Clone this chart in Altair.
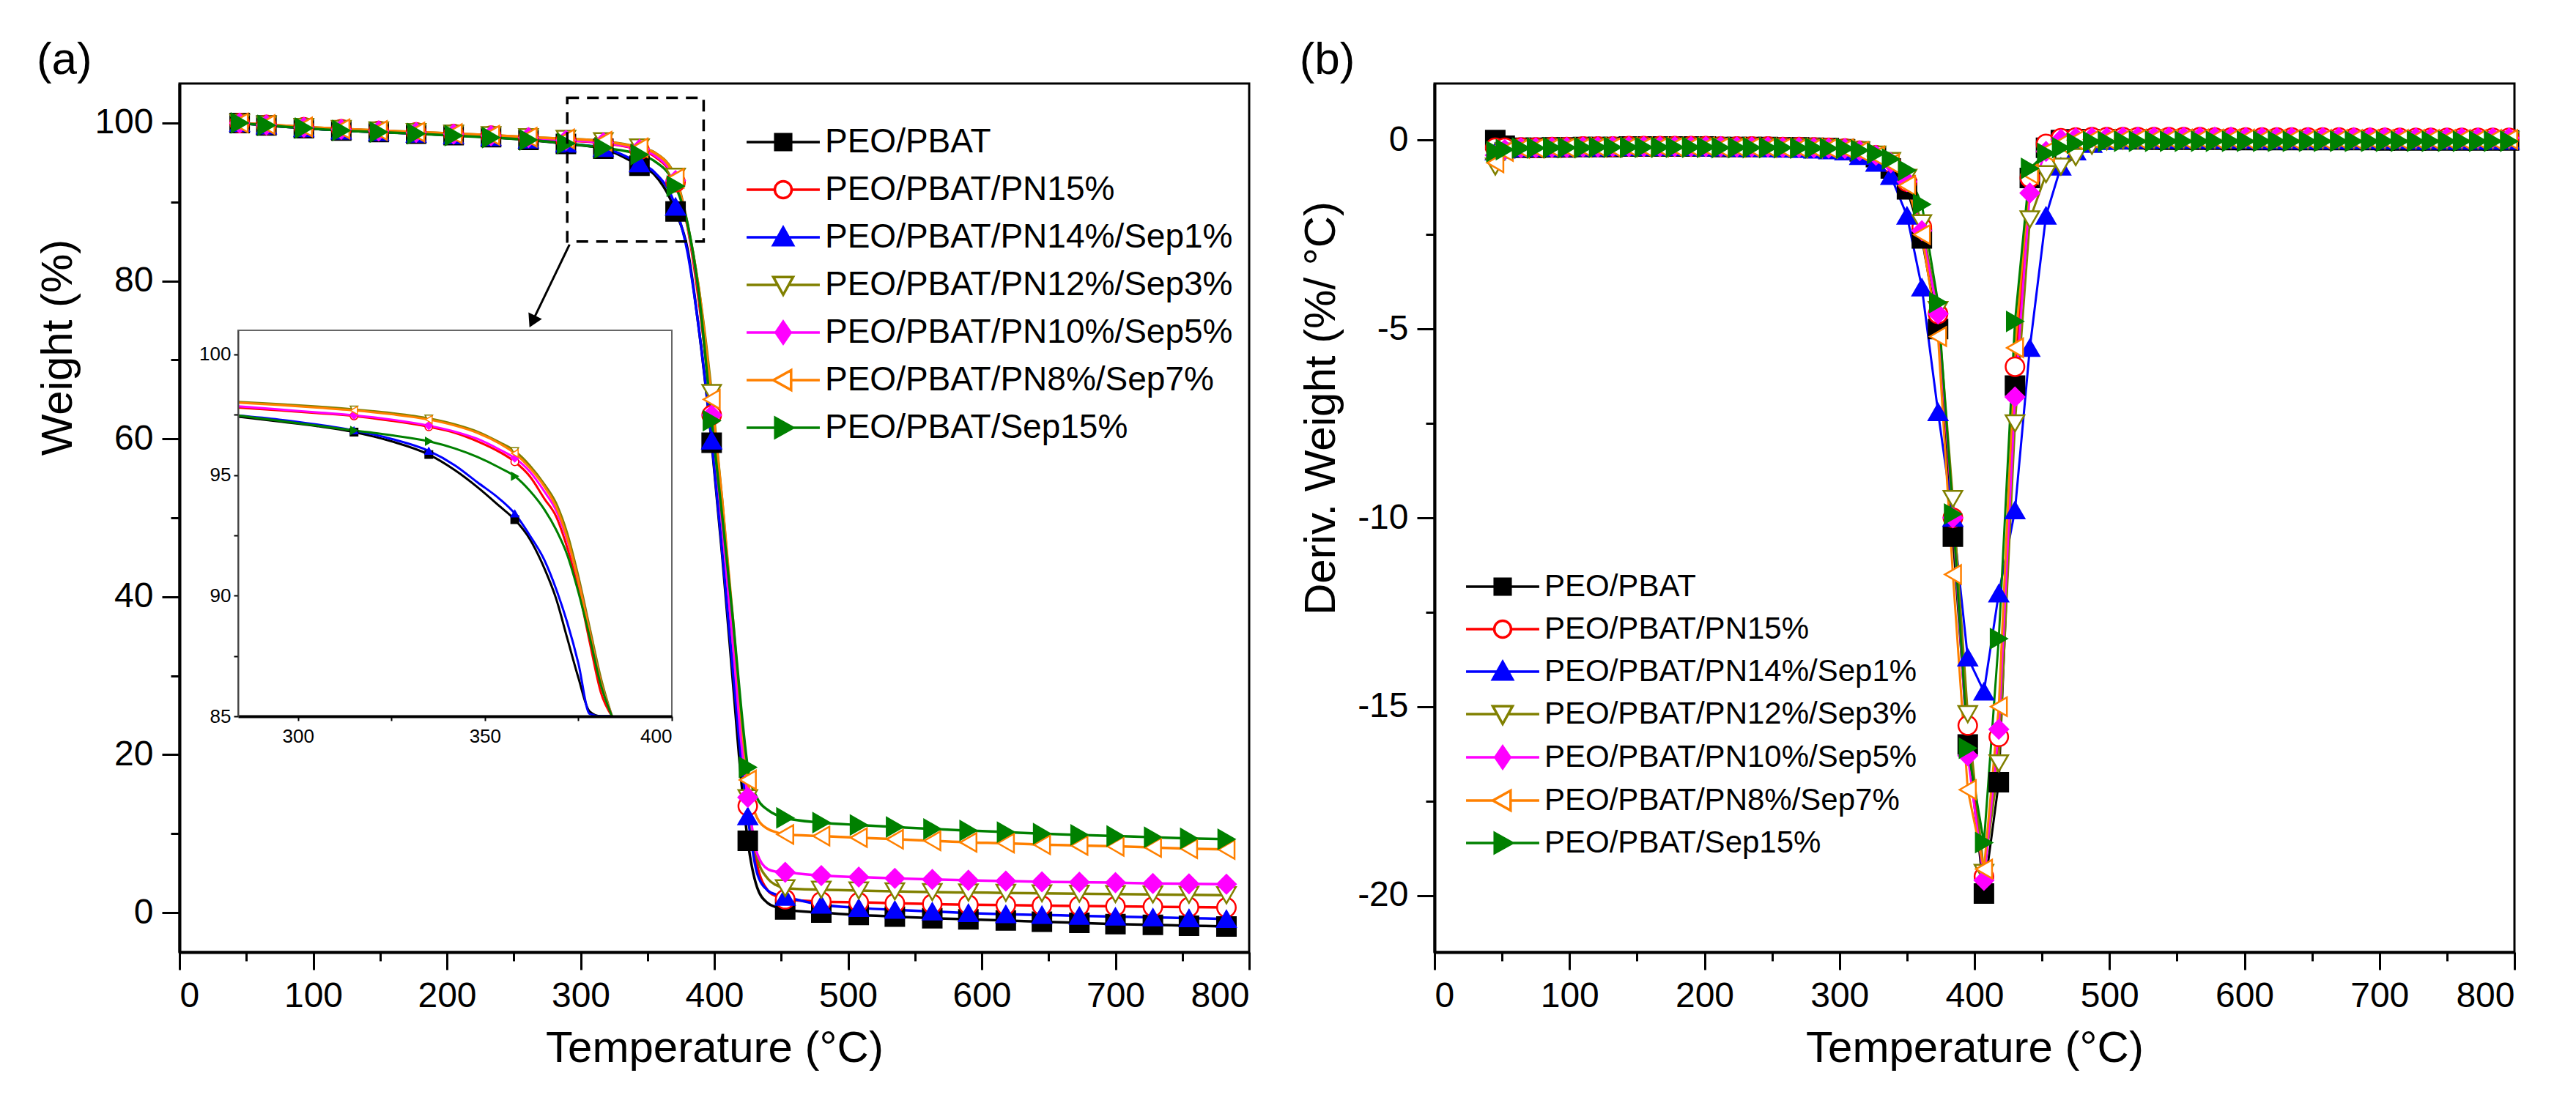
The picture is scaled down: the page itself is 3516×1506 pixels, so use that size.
import altair as alt
import pandas as pd

# ---------------- series ----------------
SERIES = [
    "PEO/PBAT",
    "PEO/PBAT/PN15%",
    "PEO/PBAT/PN14%/Sep1%",
    "PEO/PBAT/PN12%/Sep3%",
    "PEO/PBAT/PN10%/Sep5%",
    "PEO/PBAT/PN8%/Sep7%",
    "PEO/PBAT/Sep15%",
]
LINE_COLORS = ["#000000", "#FF0000", "#0000FF", "#808000", "#FF00FF", "#FF8000", "#008000"]
FILL_COLORS = ["#000000", "#FFFFFF", "#0000FF", "#FFFFFF", "#FF00FF", "#FFFFFF", "#008000"]
SHAPES = ["square", "circle", "triangle-up", "triangle-down", "diamond", "triangle-left", "triangle-right"]
# legend symbols: marker with a line stub on each side
LEGEND_PATHS = [
    "M-3.7,0H-0.8M0.8,0H3.7M-0.8,-0.8H0.8V0.8H-0.8Z",
    "M-3.7,0H-0.85M0.85,0H3.7M0.85,0A0.85,0.85,0,1,1,-0.85,0A0.85,0.85,0,1,1,0.85,0Z",
    "M-3.7,0H-0.56M0.56,0H3.7M0,-1L1,0.8H-1Z",
    "M-3.7,0H-0.56M0.56,0H3.7M0,1L1,-0.8H-1Z",
    "M-3.7,0H-0.75M0.75,0H3.7M0,-1.1L0.75,0L0,1.1L-0.75,0Z",
    "M-3.7,0H-1M0.8,0H3.7M-1,0L0.8,-1V1Z",
    "M-3.7,0H-0.8M1,0H3.7M1,0L-0.8,-1V1Z",
]

# ---------------- (a) TGA ----------------
T_TGA = [45, 65, 93, 121, 149, 177, 205, 233, 261, 289, 317, 344, 355, 371, 380, 388, 398, 406,
         414, 420, 425, 432, 440, 446, 453, 480, 508, 535, 563, 590, 618, 645, 673, 700, 728, 755, 783]
TGA_MARK_T = [45, 65, 93, 121, 149, 177, 205, 233, 261, 289, 317, 344, 371, 398, 425, 453, 480,
              508, 535, 563, 590, 618, 645, 673, 700, 728, 755, 783]

TGA_PEO_PBAT = [100.0, 99.7, 99.35, 99.05, 98.85, 98.65, 98.45, 98.2, 97.85, 97.35,
                96.75, 94.6, 93.5, 88.8, 84.0, 74.5, 59.5, 45.0, 29.0, 17.0,
                9.1, 3.2, 1.2, 0.7, 0.4, 0.0, -0.3, -0.5, -0.7, -0.85,
                -1.0, -1.15, -1.3, -1.45, -1.55, -1.65, -1.75]
TGA_PN15 = [100.0, 99.75, 99.45, 99.2, 99.0, 98.8, 98.6, 98.4, 98.1, 97.78,
            97.45, 96.6, 95.8, 92.5, 86.8, 78.0, 63.0, 49.0, 34.0, 21.5,
            13.5, 6.0, 2.8, 2.1, 1.7, 1.4, 1.3, 1.2, 1.1, 1.0,
            0.95, 0.9, 0.85, 0.8, 0.75, 0.7, 0.65]
TGA_PN14_SEP1 = [100.0, 99.7, 99.35, 99.05, 98.85, 98.65, 98.45, 98.2, 97.9, 97.4,
                 96.85, 94.9, 93.8, 89.4, 83.6, 74.5, 59.8, 45.5, 30.5, 19.5,
                 12.2, 5.0, 2.8, 2.3, 2.0, 1.0, 0.6, 0.35, 0.15, -0.05,
                 -0.2, -0.3, -0.4, -0.5, -0.6, -0.7, -0.8]
TGA_PN12_SEP3 = [100.0, 99.8, 99.5, 99.25, 99.05, 98.85, 98.65, 98.45, 98.2, 98.0,
                 97.7, 96.9, 96.3, 93.2, 87.2, 79.5, 65.8, 52.0, 36.0, 23.0,
                 14.5, 7.0, 4.3, 3.5, 3.1, 2.9, 2.8, 2.7, 2.6, 2.55,
                 2.5, 2.45, 2.4, 2.35, 2.3, 2.25, 2.2]
TGA_PN10_SEP5 = [100.0, 99.75, 99.45, 99.2, 99.0, 98.8, 98.6, 98.4, 98.15, 97.82,
                 97.5, 96.65, 95.95, 92.7, 87.0, 79.0, 63.0, 49.0, 34.0, 22.0,
                 14.6, 7.5, 5.5, 5.2, 5.1, 4.7, 4.5, 4.35, 4.2, 4.1,
                 4.0, 3.9, 3.85, 3.8, 3.7, 3.65, 3.6]
TGA_PN8_SEP7 = [100.0, 99.8, 99.5, 99.25, 99.05, 98.85, 98.65, 98.45, 98.2, 97.98,
                97.68, 96.85, 96.25, 93.0, 87.0, 79.5, 65.0, 52.0, 37.0, 25.0,
                16.8, 12.0, 10.6, 10.2, 9.9, 9.7, 9.5, 9.3, 9.1, 8.9,
                8.8, 8.6, 8.5, 8.4, 8.25, 8.1, 8.0]
TGA_SEP15 = [100.0, 99.7, 99.35, 99.05, 98.85, 98.65, 98.4, 98.15, 97.85, 97.4,
             96.85, 96.0, 95.2, 92.0, 87.2, 79.0, 62.3, 50.0, 37.0, 26.0,
             18.4, 14.5, 13.0, 12.4, 12.0, 11.4, 11.1, 10.85, 10.6, 10.4,
             10.2, 10.0, 9.85, 9.7, 9.55, 9.4, 9.3]
TGA_COLUMNS = [TGA_PEO_PBAT, TGA_PN15, TGA_PN14_SEP1, TGA_PN12_SEP3, TGA_PN10_SEP5, TGA_PN8_SEP7, TGA_SEP15]

# inset (zoom of 285-400 °C)
T_INSET = [284, 295, 305, 315, 325, 335, 342, 348, 354, 358, 362, 366, 369, 372, 375, 378, 381, 384]
INSET_MARK_T = [315, 335, 358]
INS_PEO_PBAT = [97.42, 97.22, 97.03, 96.78, 96.4, 95.85, 95.2, 94.5, 93.7, 93.15, 92.35, 91.1, 89.9, 88.25, 86.6, 85.2, 83.6, 82.0]
INS_PN15 = [97.8, 97.68, 97.57, 97.45, 97.25, 97.0, 96.75, 96.4, 95.95, 95.55, 94.95, 94.0, 93.3, 92.0, 90.3, 88.1, 86.0, 84.4]
INS_PN14_SEP1 = [97.47, 97.3, 97.1, 96.85, 96.5, 96.0, 95.4, 94.7, 94.0, 93.4, 92.5, 91.45, 90.3, 88.9, 87.2, 85.1, 83.0, 81.0]
INS_PN12_SEP3 = [98.03, 97.94, 97.84, 97.72, 97.57, 97.35, 97.1, 96.8, 96.35, 96.0, 95.4, 94.6, 93.85, 92.6, 90.8, 88.7, 86.6, 84.8]
INS_PN10_SEP5 = [97.85, 97.72, 97.6, 97.48, 97.3, 97.05, 96.8, 96.5, 96.05, 95.7, 95.15, 94.3, 93.55, 92.3, 90.6, 88.5, 86.4, 84.6]
INS_PN8_SEP7 = [98.0, 97.9, 97.8, 97.68, 97.52, 97.3, 97.05, 96.75, 96.3, 95.9, 95.3, 94.5, 93.7, 92.4, 90.6, 88.5, 86.4, 84.6]
INS_SEP15 = [97.47, 97.25, 97.05, 96.85, 96.65, 96.4, 96.1, 95.75, 95.3, 94.95, 94.35, 93.55, 92.75, 91.7, 90.15, 88.3, 86.3, 84.6]
INSET_COLUMNS = [INS_PEO_PBAT, INS_PN15, INS_PN14_SEP1, INS_PN12_SEP3, INS_PN10_SEP5, INS_PN8_SEP7, INS_SEP15]

# ---------------- (b) DTG ----------------
T_DTG = [45, 52, 64, 75, 87, 98, 110, 121, 132, 144, 155, 167, 178, 190, 201, 212, 224, 235, 247, 258,
         270, 281, 292, 304, 315, 327, 338, 350, 361, 373, 384, 395, 407, 418, 430, 441, 453, 464, 475,
         487, 498, 510, 521, 533, 544, 555, 567, 578, 590, 601, 613, 624, 635, 647, 658, 670, 681, 693,
         704, 715, 727, 738, 750, 761, 773, 784, 796]

DTG_PEO_PBAT = [
    0.0, -0.15, -0.2, -0.2, -0.19, -0.19, -0.18, -0.18, -0.18, -0.17, -0.17, -0.17, -0.17, -0.17,
    -0.17, -0.18, -0.18, -0.18, -0.18, -0.19, -0.19, -0.2, -0.21,
    -0.24, -0.3, -0.45, -0.75, -1.3, -2.6, -5.0, -10.5, -16.0, -19.95, -17.0, -6.5, -1.0, -0.2, 0.0, 0.02, 0.02,
    0.02, 0.02, 0.02, 0.01, 0.01, 0.01, 0.01, 0.01, 0.0, 0.0, 0.0, 0.0, 0.0, 0.0, 0.0, 0.0, 0.0, 0.0,
    -0.01, -0.01, -0.01, -0.01, -0.01, -0.01, -0.01, -0.01, -0.01]
DTG_PN15 = [
    -0.2, -0.2, -0.19, -0.19, -0.18, -0.18, -0.17, -0.17, -0.17, -0.16, -0.16, -0.16, -0.16, -0.16,
    -0.16, -0.17, -0.17, -0.17, -0.17, -0.18, -0.18, -0.19, -0.2,
    -0.22, -0.28, -0.4, -0.6, -1.1, -2.3, -4.6, -10.0, -15.5, -19.5, -15.8, -6.0, -1.0, -0.1, 0.05, 0.07, 0.08,
    0.08, 0.08, 0.08, 0.08, 0.08, 0.08, 0.08, 0.07, 0.07, 0.07, 0.07, 0.07, 0.07, 0.07, 0.07, 0.07,
    0.06, 0.06, 0.06, 0.06, 0.06, 0.06, 0.06, 0.06, 0.06, 0.06, 0.06]
DTG_PN14_SEP1 = [
    -0.3, -0.25, -0.21, -0.2, -0.2, -0.19, -0.19, -0.19, -0.18, -0.18, -0.18, -0.18, -0.18, -0.18,
    -0.19, -0.19, -0.2, -0.2, -0.21, -0.22, -0.23, -0.25, -0.27,
    -0.3, -0.42, -0.6, -0.95, -2.0, -3.9, -7.2, -10.0, -13.7, -14.6, -12.0, -9.8, -5.5, -2.0, -0.7, -0.3, -0.1,
    -0.02, 0.0, 0.01, 0.01, 0.01, 0.01, 0.01, 0.01, 0.01, 0.01, 0.0, 0.0, 0.0, 0.0, 0.0, 0.0, 0.0,
    0.0, 0.0, 0.0, -0.01, -0.01, -0.01, -0.01, -0.01, -0.01, -0.01]
DTG_PN12_SEP3 = [
    -0.7, -0.3, -0.22, -0.21, -0.2, -0.2, -0.19, -0.19, -0.18, -0.18, -0.18, -0.18, -0.18, -0.18,
    -0.18, -0.18, -0.19, -0.19, -0.19, -0.2, -0.2, -0.2, -0.21,
    -0.22, -0.27, -0.38, -0.55, -1.0, -2.2, -4.5, -9.5, -15.2, -19.4, -16.5, -7.5, -2.1, -0.9, -0.7, -0.45, -0.15,
    -0.03, -0.01, 0.0, 0.01, 0.01, 0.01, 0.01, 0.01, 0.01, 0.01, 0.01, 0.01, 0.01, 0.0, 0.0, 0.0, 0.0,
    0.0, 0.0, 0.0, 0.0, 0.0, 0.0, 0.0, 0.0, 0.0, 0.0]
DTG_PN10_SEP5 = [
    -0.4, -0.25, -0.2, -0.2, -0.19, -0.19, -0.18, -0.18, -0.17, -0.17, -0.17, -0.17, -0.17, -0.17,
    -0.17, -0.17, -0.18, -0.18, -0.18, -0.19, -0.19, -0.2, -0.21,
    -0.22, -0.28, -0.4, -0.6, -1.1, -2.4, -4.6, -10.0, -16.3, -19.6, -15.6, -6.8, -1.4, -0.3, 0.02, 0.06, 0.07,
    0.07, 0.08, 0.08, 0.08, 0.08, 0.08, 0.08, 0.08, 0.08, 0.07, 0.07, 0.07, 0.07, 0.07, 0.07, 0.07,
    0.07, 0.07, 0.07, 0.06, 0.06, 0.06, 0.06, 0.06, 0.06, 0.06, 0.06]
DTG_PN8_SEP7 = [
    -0.6, -0.3, -0.22, -0.21, -0.2, -0.2, -0.19, -0.19, -0.19, -0.18, -0.18, -0.18, -0.18, -0.18,
    -0.18, -0.19, -0.19, -0.19, -0.2, -0.2, -0.21, -0.21, -0.22,
    -0.23, -0.3, -0.42, -0.62, -1.2, -2.5, -5.2, -11.5, -17.2, -19.3, -15.0, -5.5, -0.9, -0.3, -0.1, 0.0, 0.02,
    0.02, 0.03, 0.03, 0.03, 0.03, 0.03, 0.03, 0.03, 0.03, 0.03, 0.02, 0.02, 0.02, 0.02, 0.02, 0.02,
    0.02, 0.02, 0.02, 0.02, 0.02, 0.02, 0.02, 0.02, 0.02, 0.02, 0.02]
DTG_SEP15 = [
    -0.3, -0.25, -0.21, -0.21, -0.2, -0.2, -0.2, -0.19, -0.19, -0.19, -0.19, -0.19, -0.19, -0.19,
    -0.19, -0.2, -0.2, -0.2, -0.2, -0.2, -0.21, -0.21, -0.22,
    -0.22, -0.27, -0.35, -0.5, -0.8, -1.7, -4.3, -9.9, -16.1, -18.6, -13.2, -4.8, -0.75, -0.35, -0.2, -0.08, -0.04,
    -0.04, -0.03, -0.03, -0.03, -0.03, -0.03, -0.03, -0.03, -0.03, -0.03, -0.03, -0.03, -0.03, -0.03,
    -0.03, -0.03, -0.03, -0.03, -0.03, -0.03, -0.03, -0.03, -0.03, -0.03, -0.03, -0.03, -0.03]
DTG_COLUMNS = [DTG_PEO_PBAT, DTG_PN15, DTG_PN14_SEP1, DTG_PN12_SEP3, DTG_PN10_SEP5, DTG_PN8_SEP7, DTG_SEP15]

# annotation: dashed zoom box and arrow in (a), in data units
BOX_T = [290, 392]
BOX_W = [85, 103.2]
ARROW_T = [291.7, 263.9]
ARROW_W = [84.6, 74.85]

# axes
X_DOMAIN = [0, 800]
X_MAJOR = [0, 100, 200, 300, 400, 500, 600, 700, 800]
X_MINOR = [50, 150, 250, 350, 450, 550, 650, 750]
TGA_Y_DOMAIN = [-5, 105]
TGA_Y_MAJOR = [0, 20, 40, 60, 80, 100]
TGA_Y_MINOR = [10, 30, 50, 70, 90]
DTG_Y_DOMAIN = [-21.5, 1.5]
DTG_Y_MAJOR = [-20, -15, -10, -5, 0]
DTG_Y_MINOR = [-17.5, -12.5, -7.5, -2.5]
INSET_X_DOMAIN = [284, 400]
INSET_Y_DOMAIN = [85, 101]
INSET_X_TICKS = [300, 325, 350, 375, 400]
INSET_Y_TICKS = [85, 87.5, 90, 92.5, 95, 97.5, 100]

FONT = "Liberation Sans, Arial, sans-serif"
W_LEFT, W_RIGHT, HEIGHT = 1460, 1474, 1186
INSET_X_RANGE = [80, 672]
INSET_Y_RANGE = [864, 337]
MARK_SIZE = 650


def to_long(temps, columns, value_name):
    frames = []
    for name, vals in zip(SERIES, columns):
        assert len(vals) == len(temps), (name, len(vals), len(temps))
        frames.append(pd.DataFrame({"T": temps, value_name: vals, "series": name}))
    return pd.concat(frames, ignore_index=True)


stroke_scale = alt.Scale(domain=SERIES, range=LINE_COLORS)
fill_scale = alt.Scale(domain=SERIES, range=FILL_COLORS)
shape_scale = alt.Scale(domain=SERIES, range=SHAPES)
legend_shape_scale = alt.Scale(domain=SERIES, range=LEGEND_PATHS)
INDEPENDENT = dict(x="independent", y="independent", stroke="independent",
                   fill="independent", shape="independent")


def minor_axis(values, orient):
    return alt.Axis(values=values, orient=orient, labels=False, domain=False, tickSize=12, title=None)


def series_lines(df, x, y, width, interpolate):
    return alt.Chart(df).mark_line(strokeWidth=width, interpolate=interpolate).encode(
        x=x, y=y, stroke=alt.Stroke("series:N", scale=stroke_scale, legend=None),
    )


def series_points(df, x, y, size, stroke_width):
    return alt.Chart(df).mark_point(filled=True, opacity=1, size=size, strokeWidth=stroke_width).encode(
        x=x, y=y,
        stroke=alt.Stroke("series:N", scale=stroke_scale, legend=None),
        fill=alt.Fill("series:N", scale=fill_scale, legend=None),
        shape=alt.Shape("series:N", scale=shape_scale, legend=None),
    )


def key_layer(x, y, legend):
    # no drawable rows: it only carries the legend and the minor ticks
    keys = pd.DataFrame({"series": SERIES, "T": [None] * len(SERIES), "v": [None] * len(SERIES)})
    return alt.Chart(keys).mark_point(filled=True, opacity=1, size=729, strokeWidth=3.5).encode(
        x=x, y=y,
        stroke=alt.Stroke("series:N", scale=stroke_scale, legend=legend),
        fill=alt.Fill("series:N", scale=fill_scale, legend=legend),
        shape=alt.Shape("series:N", scale=legend_shape_scale, legend=legend),
    )


def key_legend(x, y, font_size, row_padding, label_offset):
    return alt.Legend(
        title=None, orient="none", legendX=x, legendY=y, padding=0,
        labelFont=FONT, labelFontSize=font_size, labelColor="black", labelLimit=2000,
        labelOffset=label_offset, rowPadding=row_padding,
        symbolSize=729, symbolStrokeWidth=3.5,
    )


def panel_title(text):
    return alt.TitleParams(text, anchor="start", frame="bounds", fontSize=62, font=FONT,
                           fontWeight="normal", offset=0)


# ---------------- panel (a) ----------------
tga = to_long(T_TGA, TGA_COLUMNS, "v")
tga_marks = tga[tga["T"].isin(TGA_MARK_T)]
x_main = alt.Scale(domain=X_DOMAIN, nice=False)
y_tga = alt.Scale(domain=TGA_Y_DOMAIN, nice=False)


def xa(field="T", axis=None):
    return alt.X(f"{field}:Q", scale=x_main, axis=axis)


def ya(field="v", axis=None):
    return alt.Y(f"{field}:Q", scale=y_tga, axis=axis)


tga_lines = series_lines(
    tga,
    xa(axis=alt.Axis(values=X_MAJOR, orient="bottom", title="Temperature (°C)")),
    ya(axis=alt.Axis(values=TGA_Y_MAJOR, orient="left", title="Weight (%)", titleY=360)),
    3.5, "monotone",
)
tga_points = series_points(tga_marks, xa(), ya(), MARK_SIZE, 2.5)
zoom_box = alt.Chart(pd.DataFrame({"x": [BOX_T[0]], "x2": [BOX_T[1]], "y": [BOX_W[0]], "y2": [BOX_W[1]]})).mark_rect(
    fillOpacity=0, stroke="black", strokeWidth=3.5, strokeDash=[16, 11]
).encode(x=xa("x"), x2="x2", y=ya("y"), y2="y2")
arrow_df = pd.DataFrame({"T": ARROW_T, "v": ARROW_W})
arrow_line = alt.Chart(arrow_df).mark_line(color="black", strokeWidth=3).encode(x=xa(), y=ya())
arrow_head = alt.Chart(arrow_df.tail(1)).mark_point(
    shape="triangle-down", angle=26, size=420, filled=True, color="black", opacity=1
).encode(x=xa(), y=ya())
tga_keys = key_layer(
    xa(axis=minor_axis(X_MINOR, "bottom")),
    ya(axis=minor_axis(TGA_Y_MINOR, "left")),
    key_legend(801, 57, 46, 19, 34),
)

# inset drawn in its own scales, mapped onto a sub-rectangle of the plot
ins = to_long(T_INSET, INSET_COLUMNS, "v")
ins_marks = ins[ins["T"].isin(INSET_MARK_T)]
x_ins = alt.Scale(domain=INSET_X_DOMAIN, range=INSET_X_RANGE, nice=False)
y_ins = alt.Scale(domain=INSET_Y_DOMAIN, range=INSET_Y_RANGE, nice=False, clamp=True)
inset_frame = alt.Chart(pd.DataFrame({
    "x": [INSET_X_DOMAIN[0]], "x2": [INSET_X_DOMAIN[1]], "y": [INSET_Y_DOMAIN[0]], "y2": [INSET_Y_DOMAIN[1]]
})).mark_rect(fillOpacity=0, stroke="#666666", strokeWidth=2).encode(
    x=alt.X("x:Q", scale=x_ins, axis=None), x2="x2",
    y=alt.Y("y:Q", scale=y_ins, axis=None), y2="y2",
)
inset_lines = series_lines(
    ins,
    alt.X("T:Q", scale=x_ins, axis=alt.Axis(
        values=INSET_X_TICKS, orient="bottom", offset=-(HEIGHT - INSET_Y_RANGE[0]), title=None,
        labelExpr="datum.value % 50 == 0 ? datum.label : ''", tickSize=6, tickWidth=2,
        labelFontSize=26, labelPadding=8, domainWidth=4, zindex=2)),
    alt.Y("v:Q", scale=y_ins, axis=alt.Axis(
        values=INSET_Y_TICKS, orient="left", offset=-INSET_X_RANGE[0], title=None,
        labelExpr="datum.value % 5 == 0 ? datum.label : ''", tickSize=6, tickWidth=2,
        labelFontSize=26, labelPadding=4, domainWidth=2, domainColor="#444444", zindex=2)),
    3, "monotone",
)
inset_points = series_points(
    ins_marks, alt.X("T:Q", scale=x_ins, axis=None), alt.Y("v:Q", scale=y_ins, axis=None), 110, 1.5,
)

panel_a = alt.layer(
    tga_lines, tga_points, zoom_box, arrow_line, arrow_head, tga_keys,
    inset_frame, inset_lines, inset_points,
).resolve_scale(**INDEPENDENT).resolve_axis(x="independent", y="independent").properties(
    width=W_LEFT, height=HEIGHT, title=panel_title("(a)"),
)

# ---------------- panel (b) ----------------
dtg = to_long(T_DTG, DTG_COLUMNS, "v")
y_dtg = alt.Scale(domain=DTG_Y_DOMAIN, nice=False)
dtg_lines = series_lines(
    dtg,
    xa(axis=alt.Axis(values=X_MAJOR, orient="bottom", title="Temperature (°C)")),
    alt.Y("v:Q", scale=y_dtg, axis=alt.Axis(values=DTG_Y_MAJOR, orient="left", title="Deriv. Weight (%/ °C)",
                                             labelExpr="'' + datum.value", titleY=443)),
    3, "linear",
)
dtg_points = series_points(dtg, xa(), alt.Y("v:Q", scale=y_dtg, axis=None), MARK_SIZE, 2.5)
dtg_keys = key_layer(
    xa(axis=minor_axis(X_MINOR, "bottom")),
    alt.Y("v:Q", scale=y_dtg, axis=minor_axis(DTG_Y_MINOR, "left")),
    key_legend(72, 666, 42, 16, 36),
)
panel_b = alt.layer(dtg_lines, dtg_points, dtg_keys).resolve_scale(
    **INDEPENDENT
).resolve_axis(x="independent", y="independent").properties(
    width=W_RIGHT, height=HEIGHT, title=panel_title("(b)"),
)

chart = alt.hconcat(panel_a, panel_b, spacing=64).resolve_scale(
    stroke="independent", fill="independent", shape="independent"
).properties(
    padding={"left": 40, "top": 41, "right": 10, "bottom": 10}
).configure_view(
    stroke="black", strokeWidth=3
).configure_axis(
    grid=False, domainColor="black", domainWidth=4, tickColor="black", tickWidth=3, tickSize=24,
    labelFont=FONT, labelFontSize=48, labelColor="black", labelPadding=12,
    titleFont=FONT, titleFontSize=60, titleFontWeight="normal", titleColor="black", titlePadding=18,
)

chart.save("out.html", embed_options={"renderer": "svg", "actions": False})
